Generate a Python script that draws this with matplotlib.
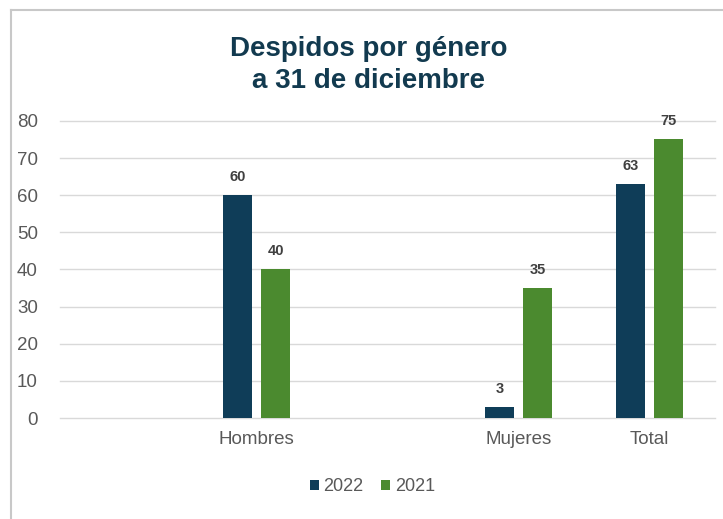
import matplotlib.pyplot as plt
from matplotlib.lines import Line2D
import numpy as np

plt.rcParams['font.family'] = ['Liberation Sans', 'DejaVu Sans']

# ---------- data ----------
categories = ['', 'Hombres', '', 'Mujeres', 'Total']
vals_2022 = [None, 60, None, 3, 63]
vals_2021 = [None, 40, None, 35, 75]
series_names = ['2022', '2021']
yticks = [0, 10, 20, 30, 40, 50, 60, 70, 80]

c_2022 = '#0f3d58'
c_2021 = '#4b8a2f'

fig = plt.figure(figsize=(7.23, 5.19), dpi=100)
ax = fig.add_axes([0.083, 0.1946, 0.906, 0.5724])

x = np.arange(len(categories))
w = 0.22
off = 0.145
idx = [i for i, v in enumerate(vals_2022) if v is not None]
v22 = [vals_2022[i] for i in idx]
v21 = [vals_2021[i] for i in idx]
xi = x[idx]

b1 = ax.bar(xi - off, v22, w, color=c_2022, zorder=3, label=series_names[0])
b2 = ax.bar(xi + off, v21, w, color=c_2021, zorder=3, label=series_names[1])
for bars in (b1, b2):
    ax.bar_label(bars, padding=8, fontsize=10.5, fontweight='bold', color='#404040')

ax.set_xlim(-0.5, len(categories) - 0.5)
ax.set_ylim(0, 80)
ax.set_yticks(yticks)
ax.set_xticks(x)
ax.set_xticklabels(categories)
ax.yaxis.grid(True, color='#d9d9d9', linewidth=1, zorder=0)
for gl in ax.get_ygridlines():
    gl.set_clip_on(False)
ax.set_axisbelow(True)
for s in ax.spines.values():
    s.set_visible(False)
ax.tick_params(axis='y', length=0, pad=16, labelsize=13.5, labelcolor='#595959')
ax.tick_params(axis='x', length=0, pad=9, labelsize=13.5, labelcolor='#595959')

fig.text(0.51, 0.875, 'Despidos por género\na 31 de diciembre', ha='center', va='center',
         fontsize=20, fontweight='bold', color='#123a4f', linespacing=1.27)

leg = fig.legend(handles=[b1, b2], loc='center', bbox_to_anchor=(0.515, 0.062), ncol=2,
                 frameon=False, fontsize=13, handlelength=0.5, handleheight=0.5,
                 handletextpad=0.25, columnspacing=1.0, labelcolor='#595959')

# outer frame (top and left edges only)
fig.add_artist(Line2D([0.015, 1.0], [0.981, 0.981], color='#c8c8c8', linewidth=1.5))
fig.add_artist(Line2D([0.015, 0.015], [0.0, 0.981], color='#c8c8c8', linewidth=1.5))

fig.savefig('out.png', dpi=100)
